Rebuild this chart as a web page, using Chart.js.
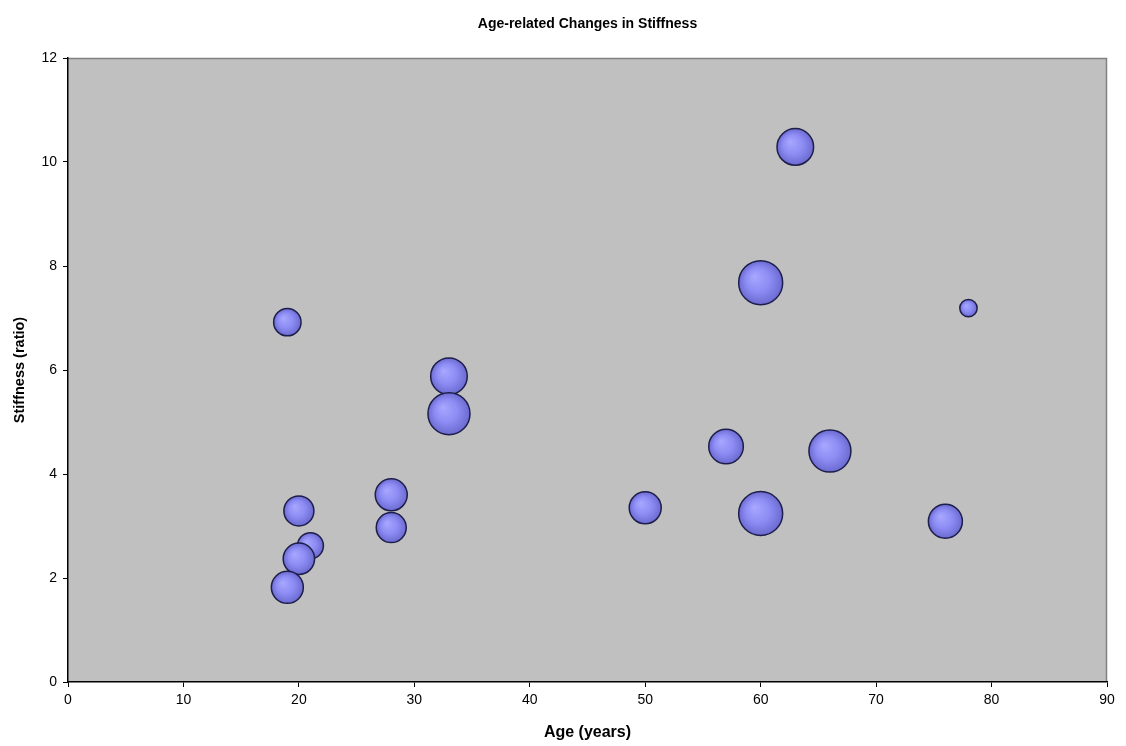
<!DOCTYPE html>
<html>
<head>
<meta charset="utf-8">
<script src="https://cdn.jsdelivr.net/npm/chart.js@4.4.1/dist/chart.umd.min.js"></script>
<style>
html,body{margin:0;padding:0;background:#fff;}
#wrap{width:1126px;height:746px;position:relative;}
</style>
</head>
<body>
<div id="wrap"><canvas id="c" width="1126" height="746"></canvas></div>
<script>
// Data
const ages        = [19,   33,   33,   20,   21,   20,   19,   28,   28,   50,   57,   60,   60,   63,    66,   76,   78];
const stiffness   = [6.92, 5.88, 5.16, 3.29, 2.62, 2.37, 1.82, 3.60, 2.97, 3.35, 4.53, 7.68, 3.24, 10.29, 4.44, 3.09, 7.19];
const bubbleSizes = [13.7, 18.3, 21,   15,   13,   15.7, 16,   16,   15,   16,   17.3, 22,   22,   18.3,  21,   17,   8.7];
const xTicks = [0,10,20,30,40,50,60,70,80,90];
const yTicks = [0,2,4,6,8,10,12];

const points = ages.map((a,i)=>({x:a, y:stiffness[i], r:bubbleSizes[i]}));

const FONT = 'Liberation Sans, Arial, sans-serif';

const plotBg = {
  id:'plotBg',
  beforeDraw(chart){
    const {ctx, chartArea:a} = chart;
    ctx.save();
    ctx.fillStyle = '#C0C0C0';
    ctx.fillRect(a.left, a.top, a.right-a.left, a.bottom-a.top);
    ctx.strokeStyle = '#808080';
    ctx.lineWidth = 1.5;
    ctx.beginPath();
    ctx.moveTo(a.left, a.top+0.5);
    ctx.lineTo(a.right-0.5, a.top+0.5);
    ctx.lineTo(a.right-0.5, a.bottom);
    ctx.stroke();
    ctx.restore();
  }
};

function bubbleFill(context){
  const chart = context.chart;
  const raw = context.raw;
  if(!chart.chartArea || !raw) return '#8f8ff5';
  const xs = chart.scales.x, ys = chart.scales.y;
  if(!xs || !ys) return '#8f8ff5';
  const px = xs.getPixelForValue(raw.x), py = ys.getPixelForValue(raw.y);
  const r = raw.r;
  const g = chart.ctx.createRadialGradient(px - r*0.3, py - r*0.3, 0, px, py, r);
  g.addColorStop(0, '#a8a8ff');
  g.addColorStop(0.55, '#8c8cf4');
  g.addColorStop(1, '#6a6ad0');
  return g;
}

new Chart(document.getElementById('c'), {
  type:'bubble',
  data:{
    datasets:[{
      label:'Stiffness',
      data:points,
      backgroundColor:bubbleFill,
      hoverBackgroundColor:bubbleFill,
      borderColor:'#1e1e4a',
      borderWidth:1.5,
      hoverBorderWidth:1.5,
      clip:false
    }]
  },
  options:{
    responsive:false,
    animation:false,
    events:[],
    layout:{autoPadding:false,padding:{left:11,right:19,top:0,bottom:4}},
    plugins:{
      legend:{display:false},
      tooltip:{enabled:false},
      title:{
        display:true,
        fullSize:false,
        text:'Age-related Changes in Stiffness',
        color:'#000',
        font:{family:FONT, size:14, weight:'bold'},
        padding:{top:16,bottom:25.2}
      }
    },
    scales:{
      x:{
        type:'linear',
        min:0,max:90,
        afterBuildTicks(s){ s.ticks = xTicks.map(v=>({value:v})); },
        afterFit(s){ s.height = 746 - 682 - 4; s.paddingLeft = 0; s.paddingRight = 0; },
        border:{display:true,color:'#000',width:1.5},
        grid:{display:true,drawOnChartArea:false,drawTicks:true,tickLength:5,color:'#000',lineWidth:1},
        ticks:{color:'#000',padding:5,maxRotation:0,font:{family:FONT,size:14}},
        title:{display:true,text:'Age (years)',color:'#000',padding:{top:7,bottom:0},
          font:{family:FONT,size:16,weight:'bold'}}
      },
      y:{
        type:'linear',
        min:0,max:12,
        afterBuildTicks(s){ s.ticks = yTicks.map(v=>({value:v})); },
        afterFit(s){ s.width = 57; s.paddingTop = 0; s.paddingBottom = 0; },
        border:{display:true,color:'#000',width:1.5},
        grid:{display:true,drawOnChartArea:false,drawTicks:true,tickLength:5,color:'#000',lineWidth:1},
        ticks:{color:'#000',padding:6,font:{family:FONT,size:14}},
        title:{display:true,text:'Stiffness (ratio)',color:'#000',padding:{top:0,bottom:0},
          font:{family:FONT,size:14.5,weight:'bold'}}
      }
    }
  },
  plugins:[plotBg]
});
</script>
</body>
</html>
